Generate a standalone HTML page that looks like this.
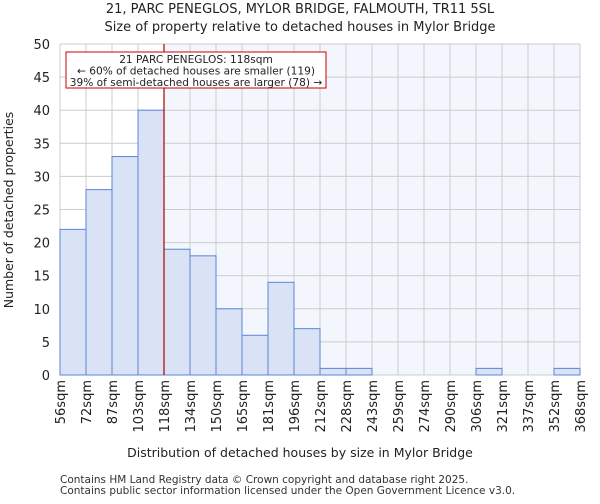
<!DOCTYPE html>
<html><head><meta charset="utf-8"><style>
body{margin:0;background:#fff;font-family:"DejaVu Sans","Liberation Sans",sans-serif}
</style></head><body>
<svg id="c" width="600" height="500" xmlns="http://www.w3.org/2000/svg" font-family="DejaVu Sans, Liberation Sans, sans-serif">
<text x="300" y="13" text-anchor="middle" font-size="13" fill="#222">21, PARC PENEGLOS, MYLOR BRIDGE, FALMOUTH, TR11 5SL</text>
<text x="300" y="31" text-anchor="middle" font-size="13" fill="#222">Size of property relative to detached houses in Mylor Bridge</text>
<g id="plot"></g>
<text x="300" y="457" text-anchor="middle" font-size="12.5" fill="#222">Distribution of detached houses by size in Mylor Bridge</text>
<text transform="translate(13,210) rotate(-90)" text-anchor="middle" font-size="12.5" fill="#222">Number of detached properties</text>
<text x="60" y="483" font-size="10.5" fill="#333">Contains HM Land Registry data © Crown copyright and database right 2025.</text>
<text x="60" y="494" font-size="10.5" fill="#333">Contains public sector information licensed under the Open Government Licence v3.0.</text>
</svg>
<script>
const labels=["56sqm","72sqm","87sqm","103sqm","118sqm","134sqm","150sqm","165sqm","181sqm","196sqm","212sqm","228sqm","243sqm","259sqm","274sqm","290sqm","306sqm","321sqm","337sqm","352sqm","368sqm"];
const counts=[22,28,33,40,19,18,10,6,14,7,1,1,0,0,0,0,1,0,0,1];
const yTicks=[0,5,10,15,20,25,30,35,40,45,50];
const markerBin=4;
const X0=60,X1=580,Y0=375,Y1=44,YMAX=50;
const bw=(X1-X0)/counts.length;
const x=i=>X0+i*bw;
const y=v=>Y0-(v/YMAX)*(Y0-Y1);
const NS="http://www.w3.org/2000/svg";
const g=document.getElementById('plot');
function el(t,a,txt){const e=document.createElementNS(NS,t);for(const k in a)e.setAttribute(k,a[k]);if(txt!==undefined)e.textContent=txt;g.appendChild(e);return e;}
let r=el('rect',{x:x(markerBin),y:Y1,width:X1-x(markerBin),height:Y0-Y1,fill:'#f3f6fd'});


yTicks.forEach(t=>{
 let l=el('line',{x1:X0,x2:X1,y1:y(t),y2:y(t),stroke:'#ccc','stroke-width':1});
 
 
 let tx=el('text',{x:50,y:y(t)+5,'text-anchor':'end','font-size':13,fill:'#222'},t);
 
 
});
labels.forEach((lb,i)=>{
 let l=el('line',{x1:x(i),x2:x(i),y1:Y1,y2:Y0,stroke:'#ccc','stroke-width':1});
 
 
 let tx=el('text',{transform:`translate(${x(i)+5},380) rotate(-90)`,'text-anchor':'end','font-size':13,fill:'#222'},lb);
 
 
});
counts.forEach((v,i)=>{
 if(v<=0)return;
 let b=el('rect',{x:x(i),y:y(v),width:bw,height:Y0-y(v),fill:'#dae3f5',stroke:'#5b84d6','stroke-width':1});
 
 
});
let ml=el('line',{x1:x(markerBin),x2:x(markerBin),y1:Y1,y2:Y0,stroke:'#a00','stroke-width':1.2});


let ab=el('rect',{x:66,y:52,width:260,height:36,fill:'#fff',stroke:'#c00','stroke-width':1});


["21 PARC PENEGLOS: 118sqm","← 60% of detached houses are smaller (119)","39% of semi-detached houses are larger (78) →"].forEach((s,k)=>{
 let t=el('text',{x:196,y:63+k*11.5,'text-anchor':'middle','font-size':10.6,fill:'#222'},s);
 
 
});
</script>
</body></html>
